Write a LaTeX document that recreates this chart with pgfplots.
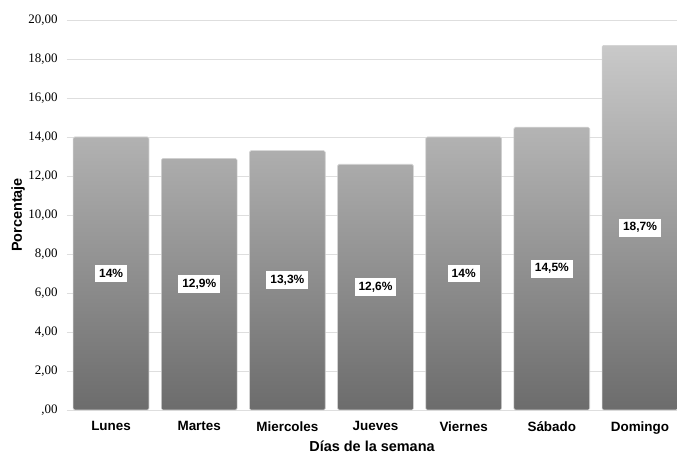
\documentclass[border=0pt]{standalone}
\usepackage{pgfplots}
\pgfplotsset{compat=1.18}
\usepackage{pgfplotstable}
\usepackage{fontspec}
\setmainfont{Liberation Sans}
\newfontfamily\tnr{Liberation Serif}
\definecolor{bartop}{RGB}{201,201,201}
\definecolor{barbot}{RGB}{108,108,108}
\definecolor{gridc}{RGB}{222,222,222}
\pgfplotstableread{
x y label
0 14.0 14
1 12.9 12,9
2 13.3 13,3
3 12.6 12,6
4 14.0 14
5 14.5 14,5
6 18.7 18,7
}\data
\begin{document}
\begin{tikzpicture}[x=1bp,y=1bp]
\useasboundingbox (-67bp,-43bp) rectangle (610bp,410bp);
\begin{axis}[
  at={(0,0)}, anchor=south west,
  scale only axis, width=610bp, height=390bp,
  xmin=-0.5, xmax=6.42, ymin=0, ymax=20,
  axis line style={draw=none},
  major tick length=0pt,
  ymajorgrids, grid style={draw=gridc, line width=0.9pt},
  ytick={0,2,...,20},
  yticklabels={{,00},{2,00},{4,00},{6,00},{8,00},{10,00},{12,00},{14,00},{16,00},{18,00},{20,00}},
  yticklabel style={font=\tnr\fontsize{13}{15}\selectfont, xshift=-6bp},
  xtick={0,...,6},
  xticklabels={Lunes,Martes,Miercoles,Jueves,Viernes,Sábado,Domingo},
  xticklabel style={font=\bfseries\fontsize{13.5}{15}\selectfont, yshift=-8bp},
  ylabel={Porcentaje}, xlabel={Días de la semana},
  every axis y label/.style={at={(axis description cs:-0.08,0.5)}, rotate=90, anchor=center, inner sep=1bp, font=\bfseries\fontsize{14.5}{16}\selectfont},
  every axis x label/.style={at={(axis description cs:0.5,-0.092)}, anchor=center, inner sep=1bp, font=\bfseries\fontsize{14.5}{16}\selectfont},
  clip=false,
]
\addplot[ybar, bar width=0.86, bar shift=0, draw=gray!35, line width=0.6pt, top color=bartop, bottom color=barbot, rounded corners=1.5pt]
  table[x=x, y=y] {\data};
\addplot[draw=none, mark=none, point meta=explicit symbolic,
  nodes near coords={\pgfplotspointmeta\%},
  every node near coord/.append style={anchor=center, fill=white, inner xsep=4bp, inner ysep=4bp, font=\bfseries\fontsize{12}{14}\selectfont, text=black}]
  table[x=x, y expr=\thisrow{y}/2, meta=label] {\data};
\end{axis}
\end{tikzpicture}
\end{document}
